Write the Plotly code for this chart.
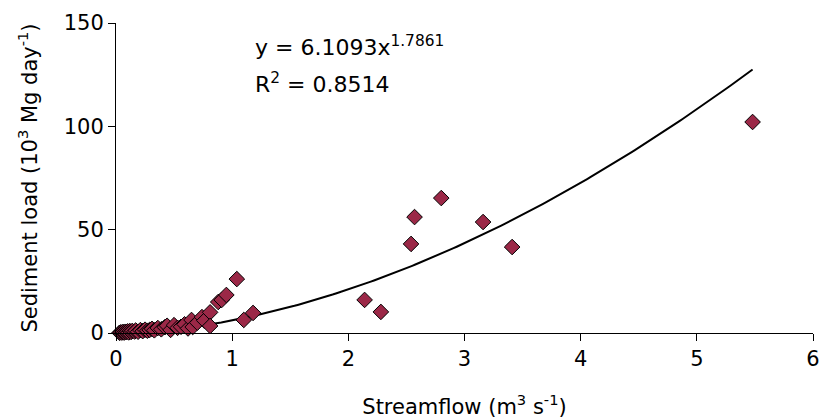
import numpy as np
import plotly.graph_objects as go

# streamflow (m3 s-1) and sediment load (10^3 Mg day-1)
streamflow = [0.03, 0.04, 0.05, 0.06, 0.07, 0.08, 0.09, 0.10, 0.11, 0.12,
              0.13, 0.14, 0.16, 0.17, 0.19, 0.21, 0.23, 0.25, 0.27, 0.29,
              0.31, 0.33, 0.36, 0.39, 0.42, 0.44, 0.47, 0.50, 0.53, 0.56,
              0.59, 0.62, 0.65, 0.66, 0.70, 0.74, 0.76, 0.81, 0.81, 0.88,
              0.91, 0.95, 1.04, 1.10, 1.18, 2.14, 2.28, 2.54, 2.57, 2.80,
              3.16, 3.41, 5.48]
sediment = [0.1, 0.3, 0.2, 0.5, 0.2, 0.6, 0.4, 0.8, 0.3, 0.9,
            0.5, 1.0, 0.7, 1.2, 0.6, 1.4, 0.9, 1.6, 1.1, 1.5,
            2.0, 1.3, 2.4, 1.8, 2.8, 3.5, 1.5, 3.8, 2.5, 3.0,
            4.2, 2.2, 6.3, 2.9, 5.0, 7.7, 6.0, 10.0, 3.4, 15.0,
            16.0, 18.4, 26.1, 6.3, 9.7, 16.0, 10.2, 43.1, 56.1, 65.3,
            53.7, 41.6, 102.1]

# power-law fit y = a * x^b
fit_a = 6.1093
fit_b = 1.7861
fit_r2 = 0.8514

fit_x = np.linspace(0.03, max(streamflow), 200)
fit_y = fit_a * fit_x ** fit_b

fig = go.Figure()

# trend line
fig.add_trace(go.Scatter(
    x=fit_x, y=fit_y, mode='lines',
    line=dict(color='black', width=2),
    hoverinfo='skip', cliponaxis=False,
))

# observations
fig.add_trace(go.Scatter(
    x=streamflow, y=sediment, mode='markers',
    marker=dict(symbol='diamond', size=12, color='#9b2847',
                line=dict(color='black', width=1)),
    cliponaxis=False,
))

font = 'DejaVu Sans, Arial, sans-serif'

fig.add_annotation(
    x=1.18, y=139, xref='x', yref='y', xanchor='left', yanchor='middle',
    text=f'y = {fit_a}x<sup>{fit_b}</sup>', showarrow=False,
    font=dict(size=22, color='black', family=font),
)
fig.add_annotation(
    x=1.18, y=121, xref='x', yref='y', xanchor='left', yanchor='middle',
    text=f'R<sup>2</sup> = {fit_r2}', showarrow=False,
    font=dict(size=22, color='black', family=font),
)

fig.update_layout(
    width=823, height=419,
    margin=dict(l=116, r=10, t=23, b=86),
    paper_bgcolor='white', plot_bgcolor='white',
    font=dict(family=font, size=21, color='black'),
    showlegend=False,
    xaxis=dict(
        range=[0, 6], tickvals=[0, 1, 2, 3, 4, 5, 6],
        showline=True, linecolor='black', linewidth=1,
        ticks='outside', ticklen=7, tickcolor='black',
        showgrid=False, zeroline=False, automargin=False,
        title=dict(text='Streamflow (m<sup>3</sup> s<sup>-1</sup>)',
                   font=dict(size=21), standoff=29),
    ),
    yaxis=dict(
        range=[0, 150], tickvals=[0, 50, 100, 150],
        showline=True, linecolor='black', linewidth=1,
        ticks='outside', ticklen=7, tickcolor='black',
        showgrid=False, zeroline=False, automargin=False,
        title=dict(text='Sediment load (10<sup>3</sup> Mg day<sup>-1</sup>)',
                   font=dict(size=21), standoff=20),
    ),
)

# drop the default page margin so the figure fills the window exactly
fig.write_html('out.html',
               config={'displayModeBar': False},
               post_script="document.body.style.margin='0';"
                           "document.body.style.overflow='hidden';")
